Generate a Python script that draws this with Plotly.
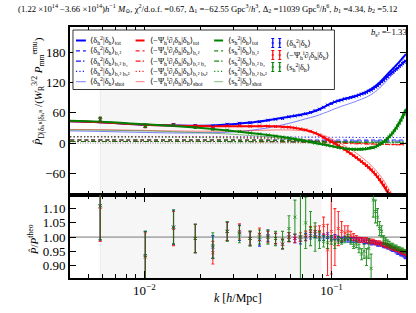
import numpy as np
import plotly.graph_objects as go

# ---------------- data ----------------
K_BINS = [0.0058, 0.0101, 0.0143, 0.0187, 0.0232, 0.0277, 0.0322, 0.0367, 0.0412, 0.0457,
          0.0502, 0.0547, 0.0592, 0.0637, 0.0682, 0.0727, 0.0772, 0.0817, 0.0862, 0.0907,
          0.0952, 0.0997, 0.1042, 0.1087, 0.1132, 0.1177, 0.1222, 0.1267, 0.1312, 0.1357,
          0.1402, 0.1447, 0.1492, 0.1537, 0.1582, 0.1627, 0.1672, 0.1717, 0.1762, 0.1807,
          0.1852, 0.1897, 0.1942, 0.1987, 0.2032, 0.2077, 0.2122, 0.2167, 0.2212, 0.2257,
          0.2302, 0.2347, 0.2392, 0.2437, 0.2482]
K_LINE = [0.004] + K_BINS + [0.25]

BLUE_TOT = [43, 41, 36, 35, 34.5, 35, 36.5, 38.5, 40.5, 42.5, 45,
            47.5, 50, 52, 54, 56, 58, 60.5, 63.5, 67, 71,
            75, 78.5, 81.5, 84, 86, 88, 89.5, 91, 92.5, 94,
            96, 98, 100, 102, 104.5, 107, 110, 113, 116.5, 120,
            124, 128, 132, 136, 140, 143.5, 147, 150.5, 154, 157.5,
            161, 164.5, 168, 171.5, 175, 176]
RED_TOT = [43, 41, 36, 34.5, 34, 33.5, 33.5, 33.5, 33.5, 33.5, 33.5,
           33, 32.5, 31.5, 30, 28, 26, 23, 19.5, 15.5, 11,
           7, 3, -1, -5, -9, -13, -17, -21, -25, -29,
           -33, -37, -41, -45, -49, -53.5, -58, -63, -68, -73.5,
           -79, -85, -91, -97, -103, -109, -115, -121, -127, -133,
           -139, -145, -151, -157, -163, -165]
GREEN_TOT = [44, 42, 37, 34, 31, 28, 25, 22.5, 20, 18, 16,
             14, 12, 10, 8, 6, 4, 2, 0, -1.5, -3,
             -4.5, -6, -7.5, -9, -10, -11, -11.8, -12.3, -12.6, -12.8,
             -12.8, -12.6, -12.2, -11.6, -10.8, -9.8, -8.5, -7, -5, -2.8,
             -0.2, 2.6, 5.6, 9, 12.6, 16.5, 20.8, 25.4, 30.3, 35.5,
             41, 46.8, 52.8, 59, 65.5, 67.5]

BLUE_SHOT = [24, 23, 21, 20, 20, 20.5, 21.5, 23, 25, 27.5, 30,
             33, 36, 39, 42, 45, 48, 50.5, 53, 56, 59,
             62, 65, 68, 70.5, 73, 75, 77, 79, 81, 83,
             85, 87, 89, 91, 93.5, 96, 99, 102, 105.5, 109,
             113, 117, 121, 125, 129, 132.5, 136, 139.5, 143, 146.5,
             150, 153.5, 157, 160.5, 164, 165]
RED_SHOT = [27, 26.5, 25, 24, 23.5, 23.5, 23.5, 24, 24.5, 25, 25.5,
            26, 26, 26, 25.5, 25, 24, 22.5, 20.5, 18, 15,
            12, 8.5, 5, 1.5, -2, -5.5, -9, -12.5, -16, -20,
            -24, -28, -32, -36, -40, -44, -48.5, -53, -58, -63,
            -68.5, -74, -80, -86, -92, -98, -104, -110, -116, -122,
            -128, -134, -140, -146, -152, -154]
GREEN_SHOT = [26, 25.5, 24, 22.5, 21, 19.5, 18, 16.5, 15, 13.5, 12,
              10.5, 9, 7.5, 6, 4.5, 3, 1.5, 0, -1.5, -3,
              -4.5, -6, -7.5, -9, -10, -11, -12, -12.5, -13, -13.5,
              -13.5, -13.5, -13, -12.5, -12, -11, -10, -8.5, -7, -5,
              -3, -0.5, 2.5, 5.5, 9, 12.5, 16.5, 21, 26, 31,
              36, 41.5, 47, 53, 59, 61]

K_COMP = [0.004, 0.01, 0.02, 0.05, 0.1, 0.15, 0.2, 0.25]
BLUE_B1SQ = [6, 6, 6, 6, 6, 6, 6, 6]
BLUE_B1SQ_B2 = [3, 3, 3, 3, 3.5, 4, 4, 4]
BLUE_B1SQ_BS2 = [12.5, 12.5, 12.5, 12, 11.5, 11, 11, 11]
RED_B1SQ = [6, 6, 6, 5.5, 2, -1, -2.5, -3]
RED_B1SQ_B2 = [3, 3, 3, 2.5, 0, -2, -3, -3.5]
RED_B1SQ_BS2 = [12.5, 12.5, 12, 10, 3, -1, -3, -4]
GREEN_B1SQ = [6, 6, 6, 5, 3, 2, 2, 2]
GREEN_B1SQ_B2 = [3, 3, 3, 2.5, 1.5, 1.5, 1.5, 1.5]
GREEN_B1SQ_BS2 = [12.5, 12, 11, 8, 3, 1, 0.5, 0.5]

BLUE_RATIO = [1.11, 0.935, 1.035, 0.995, 0.965, 1.02, 1.015, 0.995, 0.99, 1.005,
              0.995, 0.975, 1.0, 0.995, 0.99, 1.0, 1.005, 1.01, 1.0, 1.0,
              1.005, 0.995, 1.0, 0.995, 0.99, 0.995, 0.99, 0.99, 0.99, 0.99,
              0.99, 0.99, 0.985, 0.985, 0.985, 0.98, 0.98, 0.98, 0.975, 0.975,
              0.975, 0.97, 0.97, 0.965, 0.965, 0.96, 0.955, 0.955, 0.95, 0.945,
              0.945, 0.94, 0.94, 0.935, 0.93]
BLUE_ERR = [0.12, 0.085, 0.06, 0.05, 0.04, 0.032, 0.027, 0.024, 0.022, 0.02,
            0.018, 0.017, 0.016, 0.015, 0.014, 0.013, 0.012, 0.012, 0.011, 0.011,
            0.01, 0.009, 0.009, 0.009, 0.009, 0.009, 0.008, 0.008, 0.008, 0.008,
            0.008, 0.008, 0.008, 0.008, 0.008, 0.008, 0.007, 0.007, 0.007, 0.007,
            0.007, 0.007, 0.007, 0.007, 0.007, 0.007, 0.006, 0.006, 0.006, 0.006,
            0.006, 0.006, 0.006, 0.006, 0.006]
RED_RATIO = [1.105, 0.93, 1.03, 0.995, 0.945, 1.02, 1.02, 0.995, 1.01, 1.0,
             0.995, 0.975, 1.0, 0.995, 1.0, 1.005, 1.02, 1.02, 1.02, 1.04,
             0.955, 1.02, 1.0, 1.03, 1.02, 1.015, 1.02, 1.005, 1.0, 0.995,
             0.99, 0.99, 0.99, 0.99, 0.985, 0.985, 0.985, 0.98, 0.98, 0.98,
             0.975, 0.975, 0.97, 0.97, 0.965, 0.965, 0.96, 0.96, 0.955, 0.955,
             0.95, 0.95, 0.945, 0.945, 0.94]
RED_ERR = [0.12, 0.085, 0.06, 0.05, 0.04, 0.032, 0.027, 0.024, 0.022, 0.02,
           0.018, 0.017, 0.016, 0.015, 0.015, 0.016, 0.017, 0.018, 0.02, 0.03,
           0.09, 0.15, 0.1, 0.06, 0.035, 0.025, 0.02, 0.015, 0.012, 0.01,
           0.009, 0.008, 0.008, 0.008, 0.008, 0.008, 0.007, 0.007, 0.007, 0.007,
           0.007, 0.007, 0.007, 0.007, 0.007, 0.007, 0.006, 0.006, 0.006, 0.006,
           0.006, 0.006, 0.006, 0.006, 0.006]
GREEN_RATIO = [1.11, 0.935, 1.035, 0.995, 0.97, 1.02, 1.01, 0.995, 1.0, 1.0,
               0.995, 0.99, 1.03, 1.07, 1.0, 1.05, 1.03, 1.0, 0.99, 0.985,
               0.98, 0.99, 0.975, 0.99, 0.985, 0.99, 1.0, 0.985, 0.97, 0.975,
               0.96, 0.94, 0.95, 0.93, 0.96, 0.89, 1.13, 1.09, 1.07, 1.03,
               1.02, 0.99, 0.985, 0.98, 0.975, 0.97, 0.97, 0.965, 0.965, 0.96,
               0.96, 0.955, 0.955, 0.95, 0.95]
GREEN_ERR = [0.12, 0.085, 0.06, 0.05, 0.045, 0.035, 0.03, 0.027, 0.025, 0.025,
             0.025, 0.03, 0.045, 0.06, 0.3, 0.09, 0.06, 0.05, 0.03, 0.02,
             0.02, 0.015, 0.015, 0.012, 0.01, 0.01, 0.01, 0.01, 0.01, 0.012,
             0.015, 0.02, 0.025, 0.03, 0.035, 0.05, 0.06, 0.04, 0.03, 0.025,
             0.02, 0.015, 0.012, 0.01, 0.01, 0.008, 0.008, 0.007, 0.007, 0.007,
             0.006, 0.006, 0.006, 0.006, 0.006]

FIT_RANGE = [0.0058, 0.0885]
MAIN_YTICKS = [-60, 0, 60, 120, 180]
RATIO_YTICKS = [0.90, 0.95, 1.00, 1.05, 1.10]
X_MAJOR = [0.01, 0.1]
X_MINOR = [0.004, 0.005, 0.006, 0.007, 0.008, 0.009,
           0.02, 0.03, 0.04, 0.05, 0.06, 0.07, 0.08, 0.09, 0.2]

# ---------------- geometry helpers ----------------
W, H = 416, 313
ML, MR, MT, MB = 70, 8, 27, 35
PW, PH = W - ML - MR, H - MT - MB
XR = [np.log10(0.004), np.log10(0.25)]


def px(x):
    return (x - ML) / PW


def py(y):
    return (H - MB - y) / PH


def kx(k):
    return (np.log10(k) - XR[0]) / (XR[1] - XR[0])


SERIF = "Liberation Serif, DejaVu Serif, serif"
BLUE, RED, GREEN = "#0000ff", "#ff0000", "#008000"
DASH = "4px,3px"
DASHDOT = "5px,2px,1.5px,2px"
DOT = "1.2px,2.2px"

fig = go.Figure()


def line(x, y, color, width, dash="solid", opacity=1.0):
    fig.add_trace(go.Scatter(x=x, y=y, mode="lines", xaxis="x", yaxis="y",
                             line=dict(color=color, width=width, dash=dash, shape="spline"),
                             opacity=opacity, hoverinfo="skip"))


# component lines
for col, comps in [(BLUE, (BLUE_B1SQ, BLUE_B1SQ_B2, BLUE_B1SQ_BS2)),
                   (RED, (RED_B1SQ, RED_B1SQ_B2, RED_B1SQ_BS2)),
                   (GREEN, (GREEN_B1SQ, GREEN_B1SQ_B2, GREEN_B1SQ_BS2))]:
    line(K_COMP, comps[0], col, 1.1, DASH, 0.85)
    line(K_COMP, comps[1], col, 1.1, DASHDOT, 0.85)
    line(K_COMP, comps[2], col, 1.1, DOT, 0.85)

# shot lines
line(K_LINE, BLUE_SHOT, BLUE, 0.9, "solid", 0.55)
line(K_LINE, RED_SHOT, RED, 0.9, "solid", 0.55)
line(K_LINE, GREEN_SHOT, GREEN, 0.9, "solid", 0.55)

# total lines
line(K_LINE, BLUE_TOT, BLUE, 2.0)
line(K_LINE, RED_TOT, RED, 2.0)
line(K_LINE, GREEN_TOT, GREEN, 2.0)

# measured points (main panel: ratio x theory)
for col, tot, ratio, err in [(BLUE, BLUE_TOT, BLUE_RATIO, BLUE_ERR),
                             (RED, RED_TOT, RED_RATIO, RED_ERR),
                             (GREEN, GREEN_TOT, GREEN_RATIO, GREEN_ERR)]:
    th = np.array(tot[1:-1])
    obs = np.array(ratio) * th
    e = np.array(err) * np.abs(th)
    fig.add_trace(go.Scatter(x=K_BINS, y=obs, mode="markers", xaxis="x", yaxis="y",
                             marker=dict(symbol="x-thin", size=3, line=dict(width=1, color=col), color=col),
                             error_y=dict(type="data", array=e, color=col, thickness=1, width=1.5),
                             hoverinfo="skip"))

# ratio panel
for col, ratio, err in [(BLUE, BLUE_RATIO, BLUE_ERR), (RED, RED_RATIO, RED_ERR),
                        (GREEN, GREEN_RATIO, GREEN_ERR)]:
    fig.add_trace(go.Scatter(x=K_BINS, y=ratio, mode="markers", xaxis="x2", yaxis="y2",
                             marker=dict(symbol="x-thin", size=3, line=dict(width=1, color=col), color=col),
                             error_y=dict(type="data", array=err, color=col, thickness=1.1, width=1.5),
                             opacity=0.8, hoverinfo="skip"))

shapes = []
# fit range shading
shapes.append(dict(type="rect", xref="paper", yref="paper", x0=kx(FIT_RANGE[0]), x1=kx(FIT_RANGE[1]),
                   y0=0, y1=1, fillcolor="rgba(0,0,0,0.035)", line=dict(width=0), layer="below"))
shapes.append(dict(type="line", xref="paper", yref="paper", x0=kx(FIT_RANGE[0]), x1=kx(FIT_RANGE[0]),
                   y0=0, y1=1, line=dict(color="rgba(0,0,0,0.08)", width=0.8), layer="below"))
# reference lines
shapes.append(dict(type="line", xref="paper", yref="y", x0=0, x1=1, y0=0, y1=0,
                   line=dict(color="#888888", width=1, dash="1px,1.5px"), layer="below"))
shapes.append(dict(type="line", xref="paper", yref="y2", x0=0, x1=1, y0=1, y1=1,
                   line=dict(color="#777777", width=1), layer="below"))

# ---------------- manual legend ----------------
shapes.append(dict(type="rect", xref="paper", yref="paper", x0=px(73), x1=px(336), y0=py(89.5), y1=py(30),
                   fillcolor="white", line=dict(color="black", width=0.8)))
ROW_Y = [40.5, 50.8, 61.1, 71.4, 81.7]
ROW_STYLE = [(2.0, "solid", 1.0), (1.3, DASH, 0.9), (1.3, DASHDOT, 0.9), (1.3, DOT, 0.9), (0.9, "solid", 0.55)]
SUBS = ["tot", "b₁²", "b₁² b₂", "b₁² bₛ²", "shot"]
BASES = ["⟨δ<sub>h</sub><sup>2</sup>|δ<sub>h</sub>⟩",
         "⟨−Ψ<sub>h</sub><sup>i</sup>∂<sub>i</sub>δ<sub>h</sub>|δ<sub>h</sub>⟩",
         "⟨s<sub>h</sub><sup>2</sup>|δ<sub>h</sub>⟩"]
COLS = [(76, 86, 88, BLUE), (136, 145, 148, RED), (215, 224, 227, GREEN)]
annotations = []
LEG_FONT = dict(family=SERIF, size=8.3, color="black")
for ci, (x0, x1, xt, col) in enumerate(COLS):
    for ri, yy in enumerate(ROW_Y):
        w, d, op = ROW_STYLE[ri]
        shapes.append(dict(type="line", xref="paper", yref="paper", x0=px(x0), x1=px(x1),
                           y0=py(yy), y1=py(yy), opacity=op, line=dict(color=col, width=w, dash=d)))
        annotations.append(dict(xref="paper", yref="paper", x=px(xt), y=py(yy), xanchor="left",
                                yanchor="middle", showarrow=False, font=LEG_FONT,
                                text=BASES[ci] + "<sub>" + SUBS[ri] + "</sub>"))
DATA_ROWS = [43, 55, 67]
for ri, (yy, col) in enumerate(zip(DATA_ROWS, [BLUE, RED, GREEN])):
    for bx in (274, 281):
        shapes.append(dict(type="line", xref="paper", yref="paper", x0=px(bx), x1=px(bx),
                           y0=py(yy - 4.5), y1=py(yy + 4.5), line=dict(color=col, width=1.2)))
        for cy in (yy - 4.5, yy + 4.5):
            shapes.append(dict(type="line", xref="paper", yref="paper", x0=px(bx - 1.5), x1=px(bx + 1.5),
                               y0=py(cy), y1=py(cy), line=dict(color=col, width=1)))
        shapes.append(dict(type="line", xref="paper", yref="paper", x0=px(bx - 1.2), x1=px(bx + 1.2),
                           y0=py(yy), y1=py(yy), line=dict(color=col, width=1)))
    annotations.append(dict(xref="paper", yref="paper", x=px(285), y=py(yy), xanchor="left",
                            yanchor="middle", showarrow=False, font=LEG_FONT, text=BASES[ri]))

# ---------------- texts ----------------
TITLE = ("(1.22 ×10<sup>14</sup> −3.66 ×10<sup>14</sup>)<i>h</i><sup>−1</sup> <i>M</i><sub>⊙</sub>, "
         "χ<sup>2</sup>/d.o.f. =0.67, Δ<sub>1</sub> =−62.55 Gpc<sup>3</sup>/<i>h</i><sup>3</sup>, "
         "Δ<sub>2</sub> =11039 Gpc<sup>6</sup>/<i>h</i><sup>6</sup>, <i>b</i><sub>1</sub> =4.34, "
         "<i>b</i><sub>2</sub> =5.12")
annotations.append(dict(xref="paper", yref="paper", x=px(208), y=py(8), xanchor="center", yanchor="middle",
                        showarrow=False, text=TITLE, font=dict(family=SERIF, size=8.7, color="black")))
annotations.append(dict(xref="paper", yref="paper", x=px(411), y=py(33), xanchor="right", yanchor="middle",
                        showarrow=False, text="<i>b</i><sub>s²</sub> =−1.33",
                        font=dict(family=SERIF, size=8.7, color="black")))
annotations.append(dict(xref="paper", yref="paper", x=px(239), y=py(298), xanchor="center", yanchor="middle",
                        showarrow=False, text="<i>k</i> [<i>h</i>/Mpc]",
                        font=dict(family=SERIF, size=12, color="black")))
annotations.append(dict(xref="paper", yref="paper", x=px(38), y=py(92), xanchor="center", yanchor="middle",
                        showarrow=False, textangle=-90,
                        text="<i>P̂</i><sub>D|δₕᴿ|δₕᴿ</sub> /(<i>W</i><sub>R</sub><sup>3/2</sup> <i>P</i><sub>mm</sub><sup>emu</sup>)",
                        font=dict(family=SERIF, size=11, color="black")))
annotations.append(dict(xref="paper", yref="paper", x=px(33), y=py(240), xanchor="center", yanchor="middle",
                        showarrow=False, textangle=-90,
                        text="<i>P̂</i>/<i>P</i><sup>theo</sup>",
                        font=dict(family=SERIF, size=11, color="black")))

AX = dict(showline=True, linecolor="black", linewidth=1.6, mirror="ticks", ticks="inside",
          tickcolor="black", tickwidth=1, showgrid=False, zeroline=False,
          tickfont=dict(family=SERIF, size=13, color="black"))
XCOMMON = dict(type="log", range=XR, tickmode="array", tickvals=X_MAJOR, ticklen=7,
               minor=dict(ticks="inside", ticklen=4, tickwidth=1, tickcolor="black",
                          tickmode="array", tickvals=X_MINOR))

fig.update_layout(
    width=W, height=H, margin=dict(l=ML, r=MR, t=MT, b=MB),
    paper_bgcolor="white", plot_bgcolor="white", showlegend=False,
    font=dict(family=SERIF, size=13, color="black"),
    xaxis=dict(**AX, **XCOMMON, domain=[0, 1], anchor="y", showticklabels=False),
    xaxis2=dict(**AX, **XCOMMON, domain=[0, 1], anchor="y2",
                ticktext=["10<sup>−2</sup>", "10<sup>−1</sup>"]),
    yaxis=dict(**AX, domain=[83 / 251, 1], anchor="x", range=[-103, 230], tickmode="array",
               tickvals=MAIN_YTICKS, ticktext=[("−" + str(-v)) if v < 0 else str(v) for v in MAIN_YTICKS],
               ticklen=6),
    yaxis2=dict(**AX, domain=[0, 83 / 251], anchor="x2", range=[0.856, 1.148], tickmode="array",
                tickvals=RATIO_YTICKS, ticktext=["%.2f" % v for v in RATIO_YTICKS], ticklen=6),
    shapes=shapes, annotations=annotations,
)

fig.write_html("out.html", config={"displayModeBar": False},
               post_script="document.body.style.margin='0';document.body.style.overflow='hidden';")
